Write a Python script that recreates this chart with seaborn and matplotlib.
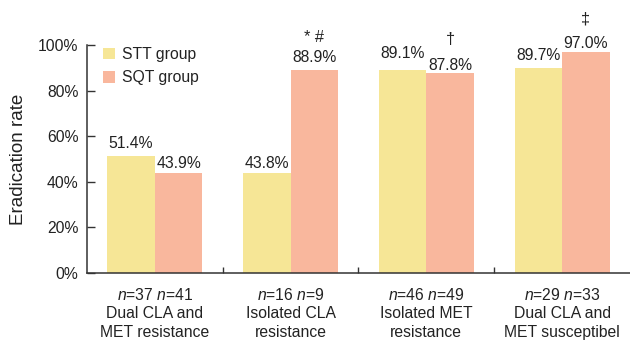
import matplotlib
matplotlib.use('Agg')
import matplotlib.pyplot as plt
import seaborn as sns
import pandas as pd
from matplotlib.ticker import FuncFormatter

# ── Data ────────────────────────────────────────────────────────────────────
categories = ['Dual CLA and\nMET resistance', 'Isolated CLA\nresistance',
              'Isolated MET\nresistance', 'Dual CLA and\nMET susceptibel']
groups = ['STT group', 'SQT group']
stt_rate = [51.4, 43.8, 89.1, 89.7]
sqt_rate = [43.9, 88.9, 87.8, 97.0]
stt_n = [37, 16, 46, 29]
sqt_n = [41, 9, 49, 33]
sig_marks = ['', '* #', '\u2020', '\u2021']   # shown above the SQT bars

df = pd.DataFrame({
    'category': categories * 2,
    'group': [groups[0]] * 4 + [groups[1]] * 4,
    'rate': stt_rate + sqt_rate,
})

# ── Style ───────────────────────────────────────────────────────────────────
sns.set_style('ticks')
plt.rcParams['font.family'] = ['Liberation Sans', 'DejaVu Sans']
plt.rcParams['mathtext.fontset'] = 'custom'
plt.rcParams['mathtext.rm'] = 'Liberation Sans'
plt.rcParams['mathtext.it'] = 'Liberation Sans:italic'
text_col = '#222222'
spine_col = '#333333'
palette = {'STT group': '#F6E696', 'SQT group': '#F9B79D'}

fig = plt.figure(figsize=(6.3, 3.41), dpi=100)
ax = fig.add_axes([0.138, 0.1994, 0.862, 0.6686])

sns.barplot(data=df, x='category', y='rate', hue='group', hue_order=groups,
            palette=palette, width=0.7, saturation=1, ax=ax, errorbar=None,
            linewidth=0)

ax.set_xlim(-0.5, 3.5)
ax.set_ylim(0, 100)
ax.set_yticks(range(0, 101, 20))
ax.yaxis.set_major_formatter(FuncFormatter(lambda v, _: f'{v:.0f}%'))
ax.tick_params(axis='y', direction='in', length=5.5, width=1, color=spine_col,
               labelsize=11.3, labelcolor=text_col, pad=6)

# x labels: n values (italic n) + category name
xlabels = [f'$\\it{{n}}$={a} $\\it{{n}}$={b}\n{c}' for a, b, c in zip(stt_n, sqt_n, categories)]
ax.set_xticks(range(4))
ax.set_xticklabels(xlabels, linespacing=1.28)
ax.tick_params(axis='x', which='major', length=0, labelsize=11.3,
               labelcolor=text_col, pad=10)
ax.set_xticks([0.5, 1.5, 2.5], minor=True)
ax.tick_params(axis='x', which='minor', direction='in', length=4.5, width=1,
               color=spine_col)

ax.set_xlabel('')
ax.set_ylabel('Eradication rate', fontsize=13.5, color=text_col, labelpad=8)

sns.despine(ax=ax)
for s in ['left', 'bottom']:
    ax.spines[s].set_color(spine_col)
    ax.spines[s].set_linewidth(1.1)

# ── Value labels & significance marks ───────────────────────────────────────
label_offsets = [[5.8, 3.6, 8.6, 5.8], [3.6, 5.8, 2.2, 2.9]]  # points above bar
for gi, cont in enumerate(ax.containers):
    for bi, p in enumerate(cont.patches):
        cx = p.get_x() + p.get_width() / 2
        h = p.get_height()
        ax.annotate(f'{h:.1f}%', xy=(cx, h), xytext=(0, label_offsets[gi][bi]),
                    textcoords='offset points', ha='center', va='baseline',
                    fontsize=11.3, color=text_col, annotation_clip=False)
        if gi == 1 and sig_marks[bi]:
            ax.annotate(sig_marks[bi], xy=(cx, h), xytext=(0, 20.5),
                        textcoords='offset points', ha='center', va='baseline',
                        fontsize=11.8, color=text_col, annotation_clip=False)

# ── Legend ──────────────────────────────────────────────────────────────────
ax.legend(loc='upper left', bbox_to_anchor=(0.018, 1.02), frameon=False,
          fontsize=11.3, handlelength=0.75, handleheight=0.75, handletextpad=0.45,
          labelspacing=0.55, borderaxespad=0, labelcolor=text_col)

fig.savefig('out.png', dpi=100)
